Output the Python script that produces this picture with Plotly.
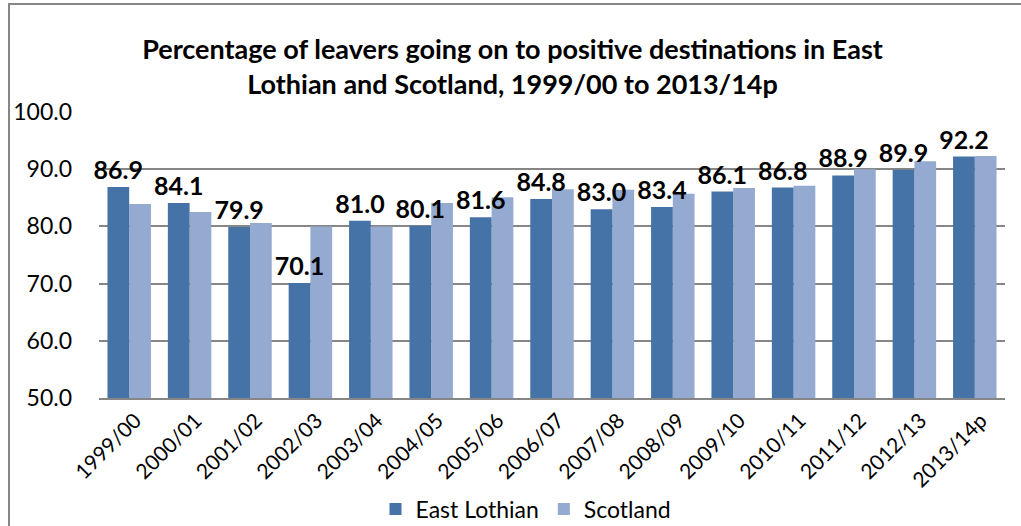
import plotly.graph_objects as go

years = ["1999/00", "2000/01", "2001/02", "2002/03", "2003/04", "2004/05", "2005/06",
         "2006/07", "2007/08", "2008/09", "2009/10", "2010/11", "2011/12", "2012/13", "2013/14p"]
east_lothian = [86.9, 84.1, 79.9, 70.1, 81.0, 80.1, 81.6, 84.8, 83.0, 83.4, 86.1, 86.8, 88.9, 89.9, 92.2]
scotland = [83.9, 82.5, 80.6, 80.0, 80.0, 84.1, 85.1, 86.5, 86.4, 85.7, 86.7, 87.1, 90.0, 91.4, 92.3]

W, H = 1021, 526
L, R, T, B = 99, 16, 112, 128
pw, ph = W - L - R, H - T - B

FONT = "Lato"
BW = 0.36

fig = go.Figure()
# Scotland drawn first so the East Lothian labels sit on top
fig.add_trace(go.Bar(
    x=years, y=scotland, name="Scotland", legendrank=2,
    width=BW, offset=0,
    marker=dict(color="#95aad1", line=dict(width=0)),
))
fig.add_trace(go.Bar(
    x=years, y=east_lothian, name="East Lothian", legendrank=1,
    width=BW, offset=-BW,
    marker=dict(color="#4673a7", line=dict(width=0)),
    text=[f"{v:.1f}" for v in east_lothian], textposition="outside",
    constraintext="none",
    textfont=dict(family=FONT, size=25, color="#000000", weight="bold"),
    cliponaxis=False,
))

fig.update_layout(
    template="none",
    width=W, height=H,
    margin=dict(l=L, r=R, t=T, b=B, autoexpand=False),
    paper_bgcolor="white", plot_bgcolor="white",
    barmode="overlay",
    font=dict(family=FONT, size=21, color="#000000"),
    title=dict(
        text="Percentage of leavers going on to positive destinations in East<br>Lothian and Scotland, 1999/00 to 2013/14p",
        x=0.502, xanchor="center", y=1 - 59 / H, yanchor="middle",
        font=dict(family=FONT, size=27, color="#000000", weight="bold"),
    ),
    legend=dict(
        orientation="h", x=(526 - L) / pw, xanchor="center",
        y=(ph - (509 - T)) / ph, yanchor="middle",
        font=dict(family=FONT, size=23), itemwidth=30, traceorder="normal",
        bgcolor="rgba(0,0,0,0)",
    ),
    showlegend=True,
)
fig.update_yaxes(
    range=[50, 100], dtick=10, tickformat=".1f", automargin=False,
    showgrid=True, gridcolor="#868686", gridwidth=1.5,
    zeroline=False, showline=False, ticks="", ticklabelstandoff=26,
    tickfont=dict(family=FONT, size=23),
)
fig.update_xaxes(
    tickangle=-45, showline=True, linecolor="#868686", linewidth=2,
    ticks="", automargin=False, showgrid=False, ticklabelshift=6,
    tickfont=dict(family=FONT, size=21),
)
# outer chart border
fig.add_shape(type="rect", xref="paper", yref="paper",
              x0=(9 - L) / pw, x1=(W + 20 - L) / pw,
              y0=(ph - (H + 20 - T)) / ph, y1=(ph - (4 - T)) / ph,
              line=dict(color="#868686", width=2), fillcolor="rgba(0,0,0,0)", layer="below")

fig.write_html("out.html", config={"displayModeBar": False},
               post_script="document.body.style.margin='0';document.body.style.overflow='hidden';")
